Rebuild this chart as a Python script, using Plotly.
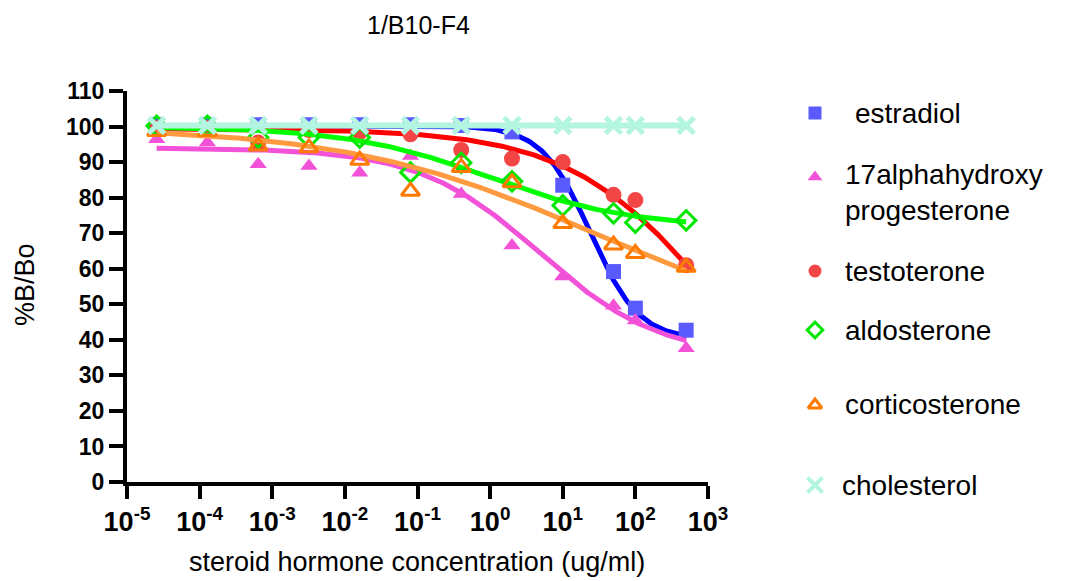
import numpy as np
import plotly.graph_objects as go

W, H = 1071, 581

# concentrations (ug/ml)
conc = [2.56e-5, 1.28e-4, 6.4e-4, 3.2e-3, 0.016, 0.08, 0.4, 2, 10, 50, 100, 500]

# %B/Bo measured for each steroid
estradiol = [100.5, 100.5, 100.5, 100.5, 100.5, 100.5, 100.3, 98.5, 83.5, 59.2, 48.9, 42.7]
ohp17 = [96.4, 95.5, 89.4, 88.9, 87.0, 91.7, 81.0, 66.5, 57.8, 49.6, 45.4, 37.6]
testosterone = [99.5, 99.5, 95.5, 99.0, 98.4, 97.8, 93.4, 91.0, 90.0, 80.8, 79.3, 61.0]
aldosterone = [100.2, 100.2, 96.9, 96.9, 96.9, 87.1, 89.8, 84.6, 77.8, 75.6, 73.0, 73.6]
corticosterone = [98.6, 98.6, 94.5, 94.0, 90.5, 81.8, 88.5, 84.2, 72.7, 66.7, 64.3, 60.4]
cholesterol = [100.3] * 12

# four-parameter logistic fits: top, bottom, EC50, Hill slope
fit_estradiol = [100.3, 40.0, 24.0, 1.3]
fit_ohp17 = [94.0, 35.0, 4.8, 0.523]
fit_testosterone = [99.4, 0.0, 1510.0, 0.425]
fit_aldosterone = [100.0, 71.5, 0.97, 0.441]
fit_corticosterone = [100.0, 40.0, 27.4, 0.253]
fit_cholesterol = [100.3, 100.3, 1.0, 1.0]

names = ["estradiol", "17alphahydroxy<br>progesterone", "testoterone",
         "aldosterone", "corticosterone", "cholesterol"]

x_ticks = [1e-5, 1e-4, 1e-3, 1e-2, 1e-1, 1, 10, 100, 1000]
x_tick_text = ["10<sup>-5</sup>", "10<sup>-4</sup>", "10<sup>-3</sup>", "10<sup>-2</sup>",
               "10<sup>-1</sup>", "10<sup>0</sup>", "10<sup>1</sup>", "10<sup>2</sup>",
               "10<sup>3</sup>"]
y_ticks = list(range(0, 111, 10))

series = [
    dict(y=estradiol, fit=fit_estradiol, sym="square", mcol="#5a5aff", lcol="#0000ff",
         open=False, size=15),
    dict(y=ohp17, fit=fit_ohp17, sym="triangle-up", mcol="#f252d8", lcol="#f252d8",
         open=False, size=15),
    dict(y=testosterone, fit=fit_testosterone, sym="circle", mcol="#f24545", lcol="#ff0000",
         open=False, size=16),
    dict(y=aldosterone, fit=fit_aldosterone, sym="diamond-open", mcol="#00e600", lcol="#00ff00",
         open=True, size=15),
    dict(y=corticosterone, fit=fit_corticosterone, sym="triangle-up-open", mcol="#ff7a00",
         lcol="#ff9a40", open=True, size=16),
    dict(y=cholesterol, fit=fit_cholesterol, sym="x-thin", mcol="#b4f5e1", lcol="#b4f5e1",
         open=True, size=16),
]


def logistic(x, p):
    top, bottom, ec50, hill = p
    return bottom + (top - bottom) / (1.0 + (x / ec50) ** hill)


xs = np.logspace(np.log10(conc[0]), np.log10(conc[-1]), 300)

fig = go.Figure()

for s in series:
    is_cross = s["sym"] == "x-thin"
    fig.add_trace(go.Scatter(
        x=xs, y=logistic(xs, s["fit"]), mode="lines",
        line=dict(color=s["lcol"], width=6 if is_cross else 5),
        showlegend=False, hoverinfo="skip", xaxis="x", yaxis="y"))
    if s["open"]:
        mk = dict(symbol=s["sym"], size=s["size"], color=s["mcol"],
                  line=dict(color=s["mcol"], width=5 if is_cross else 3))
    else:
        mk = dict(symbol=s["sym"], size=s["size"], color=s["mcol"], line=dict(width=0))
    fig.add_trace(go.Scatter(
        x=conc, y=s["y"], mode="markers", marker=mk, cliponaxis=False,
        showlegend=False, xaxis="x", yaxis="y"))

# key on the right: pixel positions of symbols and labels
key_sym_x = 815
key_txt_x = [853, 843, 843, 843, 843, 840]
key_rows = [113, 177, 271, 330, 405, 485]
key_txt_y = [113, 192, 271, 330, 405, 485]

for s, ry in zip(series, key_rows):
    is_cross = s["sym"] == "x-thin"
    mk = dict(symbol=s["sym"], size=(15 if is_cross else 12) if s["open"] else 13,
              color=s["mcol"])
    if s["open"]:
        mk["line"] = dict(color=s["mcol"], width=4 if is_cross else 3)
    else:
        mk["line"] = dict(width=0)
    fig.add_trace(go.Scatter(x=[key_sym_x], y=[-ry], mode="markers", marker=mk,
                             cliponaxis=False, showlegend=False,
                             xaxis="x2", yaxis="y2", hoverinfo="skip"))

font_family = "Liberation Sans, Arial, sans-serif"

annotations = []
for name, tx, ty in zip(names, key_txt_x, key_txt_y):
    annotations.append(dict(x=tx / W, y=1 - ty / H, xref="paper", yref="paper",
                            text=name, showarrow=False, xanchor="left", yanchor="middle",
                            align="left",
                            font=dict(family=font_family, size=28, color="#000000")))

annotations += [
    dict(x=418 / W, y=1 - 25 / H, xref="paper", yref="paper", text="1/B10-F4",
         showarrow=False, xanchor="center", yanchor="middle",
         font=dict(family=font_family, size=25, color="#000000")),
    dict(x=417 / W, y=1 - 562 / H, xref="paper", yref="paper",
         text="steroid hormone concentration (ug/ml)", showarrow=False,
         xanchor="center", yanchor="middle",
         font=dict(family=font_family, size=27, color="#000000")),
    dict(x=25 / W, y=1 - 285 / H, xref="paper", yref="paper", text="%B/Bo",
         showarrow=False, textangle=-90, xanchor="center", yanchor="middle",
         font=dict(family=font_family, size=27, color="#000000")),
]

x0, x1 = 127, 708
y_top, y_bot = 91, 482

fig.update_layout(
    width=W, height=H,
    margin=dict(l=0, r=0, t=0, b=0, autoexpand=False),
    paper_bgcolor="white", plot_bgcolor="rgba(0,0,0,0)",
    xaxis=dict(type="log", range=[-5, 3], domain=[x0 / W, x1 / W],
               anchor="y", showgrid=False, zeroline=False, automargin=False,
               showline=True, linecolor="black", linewidth=4,
               ticks="outside", ticklen=13, tickwidth=4, tickcolor="black",
               tickvals=x_ticks, ticktext=x_tick_text,
               tickfont=dict(family=font_family, size=27, color="black", weight="bold")),
    yaxis=dict(range=[0, 110], domain=[1 - y_bot / H, 1 - y_top / H],
               anchor="x", showgrid=False, zeroline=False, automargin=False,
               showline=True, linecolor="black", linewidth=4,
               ticks="outside", ticklen=14, tickwidth=4, tickcolor="black",
               tickvals=y_ticks,
               tickfont=dict(family=font_family, size=23, color="black", weight="bold")),
    xaxis2=dict(range=[0, W], domain=[0, 1], visible=False, anchor="y2",
                fixedrange=True, automargin=False),
    yaxis2=dict(range=[-H, 0], domain=[0, 1], visible=False, anchor="x2",
                fixedrange=True, automargin=False),
    annotations=annotations,
    showlegend=False,
)

fig.write_html("out.html")
